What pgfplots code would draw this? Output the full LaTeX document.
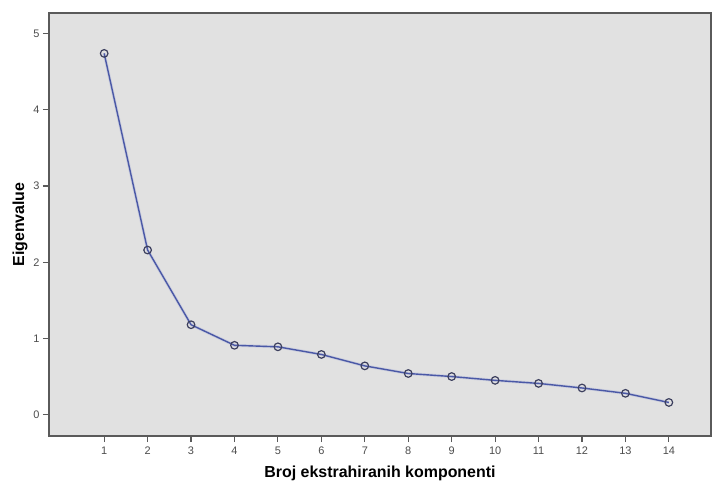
\documentclass[border=0pt]{standalone}
\usepackage{pgfplots}
\pgfplotsset{compat=1.18}
\usepackage{fontspec}
\setmainfont{Liberation Sans}
\definecolor{bgc}{HTML}{E1E1E1}
\definecolor{frm}{HTML}{5A5A5A}
\definecolor{lnc}{HTML}{4A58A6}
\definecolor{mkc}{HTML}{3C3F5E}
\begin{document}
\begin{tikzpicture}[x=1bp,y=1bp]
\begin{axis}[
  at={(49bp,49bp)}, anchor=south west,
  scale only axis, width=662bp, height=423bp,
  xmin=-0.27, xmax=14.97, ymin=-0.28, ymax=5.27,
  axis background/.style={fill=bgc},
  axis line style={frm, line width=1.3pt},
  xtick={1,...,14}, ytick={0,1,2,3,4,5},
  every tick/.style={frm, line width=1.1pt},
  tick align=outside, major tick length=6bp,
  xtick pos=bottom, ytick pos=left,
  tick label style={font=\fontsize{11}{12}\selectfont, text=black!70},
  xticklabel style={yshift=-1bp},
  /pgf/number format/assume math mode=true,
  xlabel={\bfseries Broj ekstrahiranih komponenti},
  ylabel={\bfseries Eigenvalue},
  xlabel style={font=\fontsize{16}{17}\selectfont, at={(axis description cs:0.5,0)}, anchor=center, yshift=-37bp},
  ylabel style={font=\fontsize{16}{17}\selectfont, at={(axis description cs:0,0.5)}, anchor=center, yshift=29bp},
  clip=false,
]
\addplot[lnc!40, line width=3pt, opacity=0.5] coordinates {
(1,4.74) (2,2.16) (3,1.18) (4,0.91) (5,0.89) (6,0.79) (7,0.64)
(8,0.54) (9,0.50) (10,0.45) (11,0.41) (12,0.35) (13,0.28) (14,0.16)};
\addplot[lnc, line width=1.4pt, mark=o, mark size=3.8bp,
  mark options={mkc, line width=1.2pt, fill=lnc!25}] coordinates {
(1,4.74) (2,2.16) (3,1.18) (4,0.91) (5,0.89) (6,0.79) (7,0.64)
(8,0.54) (9,0.50) (10,0.45) (11,0.41) (12,0.35) (13,0.28) (14,0.16)};
\end{axis}
\pgfresetboundingbox
\path (0,0) rectangle (713bp,485bp);
\end{tikzpicture}
\end{document}
